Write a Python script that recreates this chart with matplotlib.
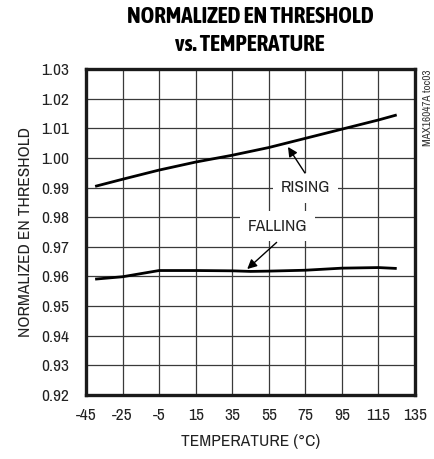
import matplotlib
matplotlib.use("Agg")
import matplotlib.pyplot as plt
from matplotlib import font_manager

# readings from the reference curve
temp_rising = [-40, -25, -5, 15, 35, 55, 75, 95, 115, 125]
rising = [0.9904, 0.9928, 0.9959, 0.9986, 1.0009, 1.0035, 1.0066, 1.0097, 1.0128, 1.0145]

temp_falling = [-40, -25, -5, 15, 35, 45, 55, 75, 95, 115, 125]
falling = [0.9591, 0.9599, 0.9620, 0.9620, 0.9619, 0.9617, 0.9618, 0.9621, 0.9628, 0.9630, 0.9627]

x_ticks = [-45, -25, -5, 15, 35, 55, 75, 95, 115, 135]
y_ticks = [0.92, 0.93, 0.94, 0.95, 0.96, 0.97, 0.98, 0.99, 1.00, 1.01, 1.02, 1.03]

title_lines = ["NORMALIZED EN THRESHOLD", "vs. TEMPERATURE"]


def is_narrow(name):
    return "Narrow" in name or "Condensed" in name


def is_bold(w):
    return (w if isinstance(w, int) else {"bold": 700, "heavy": 800, "black": 900,
                                          "extra bold": 800, "semibold": 600}.get(w, 400)) >= 700


# prefer narrow faces if installed
fonts = font_manager.fontManager.ttflist
narrow = sorted({f.name for f in fonts if is_narrow(f.name)})
narrow_bold = sorted({f.name for f in fonts if is_narrow(f.name) and is_bold(f.weight)})
FONT = narrow[:1] + ["Liberation Sans", "DejaVu Sans"]
TITLE_FONT = narrow_bold[:1] + ["Liberation Sans", "DejaVu Sans"]
plt.rcParams["font.family"] = FONT
plt.rcParams["axes.unicode_minus"] = False

fig = plt.figure(figsize=(4.35, 4.59), dpi=100)
ax = fig.add_axes([86 / 435, 64 / 459, 329 / 435, 326 / 459])

ax.plot(temp_rising, rising, color="black", lw=2.0, solid_capstyle="butt", zorder=3)
ax.plot(temp_falling, falling, color="black", lw=2.0, solid_capstyle="butt", zorder=3)

ax.set_xlim(-45, 135)
ax.set_ylim(0.92, 1.03)
ax.set_xticks(x_ticks)
ax.set_yticks(y_ticks)
ax.set_yticklabels([f"{v:.2f}" for v in y_ticks])
ax.tick_params(length=0, labelsize=12.5, colors="#222222")
ax.tick_params(axis="y", pad=12)
ax.tick_params(axis="x", pad=9)
ax.grid(True, color="#3a3a3a", lw=0.9)
ax.set_axisbelow(True)
for s in ax.spines.values():
    s.set_linewidth(2.4)
    s.set_color("#1a1a1a")

ax.set_xlabel("TEMPERATURE (°C)", fontsize=12.5, color="#222222", labelpad=8)
ax.set_ylabel("NORMALIZED EN THRESHOLD", fontsize=12.5, color="#222222", labelpad=6)

# title: bold, scaled so the first line is about 248 px wide like the reference
renderer = fig.canvas.get_renderer()
t1 = fig.text(250 / 435, 1 - 17 / 459, title_lines[0], ha="center", va="center",
              fontsize=14, fontweight="bold", family=TITLE_FONT)
w = t1.get_window_extent(renderer).width
size = 14 * 248 / w
t1.set_fontsize(size)
fig.text(250 / 435, 1 - 45 / 459, title_lines[1], ha="center", va="center",
         fontsize=size, fontweight="bold", family=TITLE_FONT)

fig.text(428 / 435, 1 - 70 / 459, "MAX16047A toc03", rotation=90, ha="center", va="top",
         fontsize=8, color="#333333")

box = dict(boxstyle="square,pad=0.45", fc="white", ec="none")
ax.text(75.3, 0.9899, "RISING", ha="center", va="center", fontsize=12.5,
        color="#222222", bbox=box, zorder=4)
ax.text(60.0, 0.9770, "FALLING", ha="center", va="center", fontsize=12.5,
        color="#222222", bbox=box, zorder=4)

arrow = dict(arrowstyle="-|>", color="black", lw=1.0, mutation_scale=14, shrinkA=0, shrinkB=0)
ax.annotate("", xy=(65.5, 1.0037), xytext=(74.8, 0.9949), arrowprops=arrow, zorder=5)
ax.annotate("", xy=(43.2, 0.9625), xytext=(59.3, 0.9715), arrowprops=arrow, zorder=5)

fig.savefig("out.png", dpi=100)
